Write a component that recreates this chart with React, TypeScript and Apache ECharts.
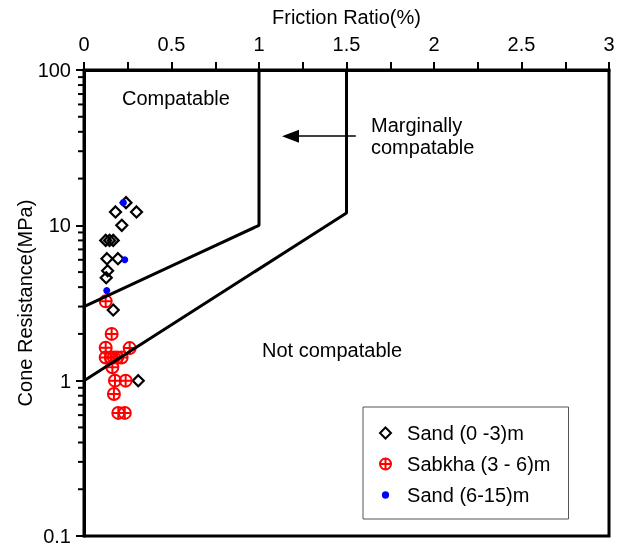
import React, { useEffect, useRef } from "react";
import * as echarts from "echarts";

const xTickLabels = ["0", "0.5", "1", "1.5", "2", "2.5", "3"];
const yTickLabels = ["0.1", "1", "10", "100"];
const yMinorTicks = [
  0.2, 0.3, 0.4, 0.5, 0.6, 0.7, 0.8, 0.9,
  2, 3, 4, 5, 6, 7, 8, 9,
  20, 30, 40, 50, 60, 70, 80, 90,
];

const boundaryUpper: [number, number][] = [
  [0, 3],
  [1, 10],
  [1, 100],
];
const boundaryLower: [number, number][] = [
  [0, 1],
  [1.5, 12],
  [1.5, 100],
];
const arrowFrom: [number, number] = [1.553, 37.5];
const arrowTo: [number, number] = [1.18, 37.5];

const sand0_3: [number, number][] = [
  [0.24, 14],
  [0.18, 12.2],
  [0.3, 12.2],
  [0.216, 10],
  [0.124, 8],
  [0.146, 8],
  [0.167, 8],
  [0.131, 6.1],
  [0.194, 6.1],
  [0.135, 5.1],
  [0.127, 4.6],
  [0.167, 2.85],
  [0.31, 1.0],
];
const sabkha3_6: [number, number][] = [
  [0.124, 3.24],
  [0.158, 2.0],
  [0.124, 1.63],
  [0.261, 1.62],
  [0.124, 1.41],
  [0.153, 1.41],
  [0.171, 1.41],
  [0.19, 1.41],
  [0.215, 1.41],
  [0.162, 1.22],
  [0.177, 1.0],
  [0.238, 1.0],
  [0.171, 0.82],
  [0.196, 0.62],
  [0.233, 0.62],
];
const sand6_15: [number, number][] = [
  [0.225, 14],
  [0.233, 6.0],
  [0.13, 3.8],
];

const FONT = "'Liberation Sans', Arial, sans-serif";
const CROSS_CIRCLE =
  "path://M10,0 A10,10 0 1,1 -10,0 A10,10 0 1,1 10,0 Z M-10,0 L10,0 M0,-10 L0,10";
const SMALL_DOT =
  "path://M-5,-5 M5,5 M3.3,0 A3.3,3.3 0 1,1 -3.3,0 A3.3,3.3 0 1,1 3.3,0 Z";

export default function App() {
  const ref = useRef<HTMLDivElement>(null);
  useEffect(() => {
    if (!ref.current) return;
    const chart = echarts.init(ref.current, null, { renderer: "svg" });
    chart.setOption({
      animation: false,
      textStyle: { fontFamily: FONT, color: "#000" },
      grid: {
        left: 84,
        right: 12,
        top: 70,
        bottom: 6,
        show: true,
        borderColor: "#000",
        borderWidth: 3,
        backgroundColor: "transparent",
      },
      xAxis: {
        type: "value",
        position: "top",
        min: 0,
        max: 3,
        interval: 0.5,
        name: "Friction Ratio(%)",
        nameLocation: "middle",
        nameGap: 43,
        nameMoveOverlap: false,
        nameTextStyle: { fontSize: 20, color: "#000", fontFamily: FONT },
        axisLine: { show: true, lineStyle: { color: "#000", width: 3 } },
        axisTick: { show: true, inside: false, length: 8, lineStyle: { color: "#000", width: 2 } },
        minorTick: { show: true, splitNumber: 2, length: 8, lineStyle: { color: "#000", width: 2 } },
        axisLabel: {
          fontSize: 20,
          color: "#000",
          fontFamily: FONT,
          margin: 16,
          formatter: (v: number) => xTickLabels[Math.round(v / 0.5)] ?? String(v),
        },
        splitLine: { show: false },
        minorSplitLine: { show: false },
      },
      yAxis: {
        type: "log",
        logBase: 10,
        min: 0.1,
        max: 100,
        name: "Cone Resistance(MPa)",
        nameLocation: "middle",
        nameGap: 49,
        nameMoveOverlap: false,
        nameRotate: 90,
        nameTextStyle: { fontSize: 20, color: "#000", fontFamily: FONT },
        axisLine: { show: true, lineStyle: { color: "#000", width: 3 } },
        axisTick: { show: true, inside: false, length: 8, lineStyle: { color: "#000", width: 2 } },
        axisLabel: {
          fontSize: 20,
          color: "#000",
          fontFamily: FONT,
          margin: 13,
          formatter: (v: number) => {
            const idx = Math.round(Math.log10(v)) + 1;
            return yTickLabels[idx] ?? String(v);
          },
        },
        splitLine: { show: false },
      },
      legend: {
        orient: "vertical",
        left: 363,
        top: 407,
        backgroundColor: "#fff",
        borderColor: "#555",
        borderWidth: 1,
        borderRadius: 0,
        padding: [16, 18, 14, 16],
        itemWidth: 11,
        itemHeight: 11,
        itemGap: 11,
        formatter: (name: string) => "  " + name,
        textStyle: { fontSize: 20, color: "#000", fontFamily: FONT, lineHeight: 20 },
        data: [
          { name: "Sand (0 -3)m" },
          { name: "Sabkha (3 - 6)m" },
          { name: "Sand (6-15)m", icon: SMALL_DOT },
        ],
      },
      graphic: [
        {
          type: "text",
          x: 122,
          y: 98,
          style: { text: "Compatable", font: `20px ${FONT}`, fill: "#000", verticalAlign: "middle" },
        },
        {
          type: "text",
          x: 371,
          y: 125,
          style: { text: "Marginally", font: `20px ${FONT}`, fill: "#000", verticalAlign: "middle" },
        },
        {
          type: "text",
          x: 371,
          y: 147,
          style: { text: "compatable", font: `20px ${FONT}`, fill: "#000", verticalAlign: "middle" },
        },
        {
          type: "text",
          x: 262,
          y: 350,
          style: { text: "Not compatable", font: `20px ${FONT}`, fill: "#000", verticalAlign: "middle" },
        },
      ],
      series: [
        {
          type: "custom",
          name: "yMinor",
          silent: true,
          clip: false,
          data: yMinorTicks.map((v) => [0, v]),
          encode: { x: 0, y: 1 },
          renderItem: (_params: any, api: any) => {
            const p = api.coord([0, api.value(1)]);
            return {
              type: "line",
              shape: { x1: p[0] - 6, y1: p[1], x2: p[0], y2: p[1] },
              style: { stroke: "#000", lineWidth: 2 },
            };
          },
        },
        {
          type: "line",
          name: "upper",
          data: boundaryUpper,
          symbol: "none",
          silent: true,
          lineStyle: { color: "#000", width: 3 },
        },
        {
          type: "line",
          name: "lower",
          data: boundaryLower,
          symbol: "none",
          silent: true,
          lineStyle: { color: "#000", width: 3 },
          markLine: {
            silent: true,
            symbol: ["none", "triangle"],
            symbolSize: [13, 17],
            label: { show: false },
            lineStyle: { color: "#000", width: 1.5, type: "solid" },
            data: [[{ coord: arrowFrom }, { coord: arrowTo }]],
          },
        },
        {
          type: "scatter",
          name: "Sand (0 -3)m",
          data: sand0_3,
          symbol: "diamond",
          symbolSize: 11,
          symbolKeepAspect: true,
          itemStyle: { color: "transparent", borderColor: "#000", borderWidth: 2.2, opacity: 1 },
        },
        {
          type: "scatter",
          name: "Sabkha (3 - 6)m",
          data: sabkha3_6,
          symbol: CROSS_CIRCLE,
          symbolSize: 12,
          symbolKeepAspect: true,
          itemStyle: { color: "transparent", borderColor: "#ff0000", borderWidth: 2, opacity: 1 },
        },
        {
          type: "scatter",
          name: "Sand (6-15)m",
          data: sand6_15,
          symbol: "circle",
          symbolSize: 7,
          itemStyle: { color: "#0000ff", opacity: 1 },
        },
      ],
    });
    return () => chart.dispose();
  }, []);
  return (
    <div
      ref={ref}
      style={{ position: "fixed", left: 0, top: 0, width: 621, height: 546 }}
    />
  );
}
